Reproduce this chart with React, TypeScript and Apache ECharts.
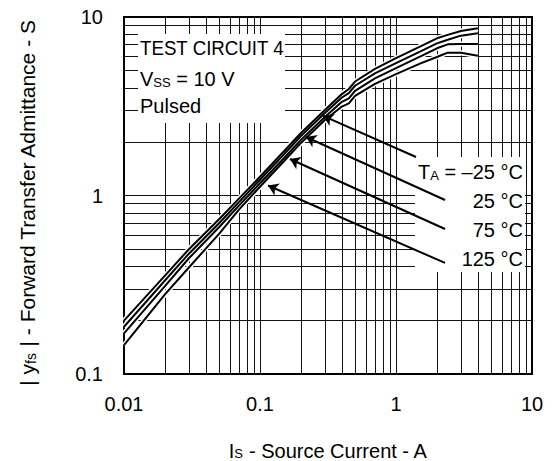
import React, { useEffect, useRef } from "react";
import * as echarts from "echarts";

// ---- data ----
const current = [0.01, 0.02, 0.03, 0.05, 0.07, 0.1, 0.15, 0.2, 0.3, 0.4, 0.45, 0.5, 0.7, 1, 1.5, 2, 2.4, 3, 4];
const yfsMinus25 = [0.199, 0.356, 0.5, 0.736, 0.96, 1.274, 1.77, 2.24, 3.01, 3.7, 3.95, 4.35, 5.12, 5.88, 6.83, 7.6, 7.94, 8.35, 8.64];
const yfs25 = [0.184, 0.334, 0.472, 0.699, 0.918, 1.225, 1.7, 2.155, 2.9, 3.54, 3.75, 4.12, 4.83, 5.51, 6.4, 7.12, 7.45, 7.86, 8.1];
const yfs75 = [0.169, 0.311, 0.445, 0.664, 0.877, 1.172, 1.618, 2.05, 2.75, 3.35, 3.5, 3.86, 4.53, 5.17, 6.0, 6.68, 7.03, 7.05, 7.05];
const yfs125 = [0.145, 0.279, 0.395, 0.61, 0.833, 1.12, 1.556, 1.97, 2.65, 3.15, 3.28, 3.62, 4.22, 4.79, 5.48, 5.97, 6.31, 6.31, 6.07];

const seriesNames = ["-25 °C", "25 °C", "75 °C", "125 °C"];
const seriesValues = [yfsMinus25, yfs25, yfs75, yfs125];

// arrow annotations: [start (label side), tip (on curve bundle)] in data units
const arrowStarts = [[1.403, 1.643], [2.293, 0.944], [2.293, 0.649], [2.293, 0.419]];
const arrowTips = [[0.291, 2.79], [0.218, 2.127], [0.166, 1.602], [0.1146, 1.138]];

const xTickMin = 0.01;
const xTickMax = 10;
const yTickMin = 0.1;
const yTickMax = 10;

const FONT = "'Liberation Sans', Arial, Helvetica, sans-serif";

function gridValues(min: number, max: number): number[] {
  const out: number[] = [];
  for (let d = Math.round(Math.log10(min)); d < Math.round(Math.log10(max)); d++) {
    for (let k = 1; k <= 9; k++) {
      const v = parseFloat((k * Math.pow(10, d)).toPrecision(3));
      if (v > min && v < max) out.push(v);
    }
  }
  return out;
}

function fmt(v: number): string {
  const r = Math.round(Math.log10(v));
  return r < 0 ? v.toFixed(-r) : String(Math.round(v));
}

export default function App() {
  const ref = useRef<HTMLDivElement>(null);

  useEffect(() => {
    if (!ref.current) return;
    const chart = echarts.init(ref.current, null, { renderer: "svg" });

    const gx = gridValues(xTickMin, xTickMax);
    const gy = gridValues(yTickMin, yTickMax);

    const rich = {
      a: { fontSize: 20, fontFamily: FONT, color: "#000" },
      b: { fontSize: 13, fontFamily: FONT, color: "#000", verticalAlign: "bottom" },
    };
    const richX = {
      a: { fontSize: 20, fontFamily: FONT, color: "#000", lineHeight: 18 },
      b: { fontSize: 13, fontFamily: FONT, color: "#000", verticalAlign: "bottom", lineHeight: 18 },
    };
    const richY = {
      a: { fontSize: 21, fontFamily: FONT, color: "#000" },
      b: { fontSize: 14, fontFamily: FONT, color: "#000", verticalAlign: "bottom" },
    };

    const curveSeries: any[] = [];
    seriesValues.forEach((vals, i) => {
      curveSeries.push({
        type: "line",
        name: seriesNames[i] + " halo",
        data: current.map((x, j) => [x, vals[j]]),
        showSymbol: false,
        symbol: "none",
        lineStyle: { color: "#fff", width: 5 },
        z: 4,
        silent: true,
      });
    });
    seriesValues.forEach((vals, i) => {
      curveSeries.push({
        type: "line",
        name: seriesNames[i],
        data: current.map((x, j) => [x, vals[j]]),
        showSymbol: false,
        symbol: "none",
        lineStyle: { color: "#000", width: 2 },
        z: 5,
        silent: true,
      });
    });

    const option: any = {
      animation: false,
      backgroundColor: "#fff",
      grid: {
        left: 124,
        top: 17,
        right: 20,
        bottom: 87,
        show: true,
        borderColor: "#000",
        borderWidth: 2,
        backgroundColor: "transparent",
        containLabel: false,
        outerBoundsMode: "none",
        z: 0,
      },
      xAxis: {
        type: "log",
        logBase: 10,
        min: xTickMin,
        max: xTickMax,
        axisLine: { show: false },
        axisTick: { show: false },
        splitLine: { show: false },
        axisLabel: { formatter: fmt, fontSize: 20, fontFamily: FONT, color: "#000", margin: 20 },
        name: "{a|I}{b|S}{a| - Source Current - A}",
        nameLocation: "middle",
        nameGap: 68,
        nameTextStyle: { rich: richX },
      },
      yAxis: {
        type: "log",
        logBase: 10,
        min: yTickMin,
        max: yTickMax,
        axisLine: { show: false },
        axisTick: { show: false },
        splitLine: { show: false },
        axisLabel: { formatter: fmt, fontSize: 20, fontFamily: FONT, color: "#000", margin: 21 },
        name: "{a|| y}{b|fs}{a| | - Forward Transfer Admittance - S}",
        nameLocation: "middle",
        nameRotate: 90,
        nameGap: 86,
        nameTextStyle: { rich: richY, padding: [0, 14, 0, 0] },
      },
      series: [
        {
          type: "line",
          name: "grid",
          data: [],
          z: 1,
          silent: true,
          markLine: {
            z: 1,
            silent: true,
            symbol: ["none", "none"],
            label: { show: false },
            lineStyle: { color: "#111", width: 1, type: "solid" },
            emphasis: { disabled: true },
            animation: false,
            data: [
              ...gx.map((v) => ({ xAxis: v })),
              ...gy.map((v) => ({ yAxis: v })),
            ],
          },
        },
        ...curveSeries,
        {
          type: "line",
          name: "arrows",
          data: [],
          z: 6,
          silent: true,
          markLine: {
            z: 6,
            silent: true,
            symbol: ["none", "arrow"],
            symbolSize: 10,
            label: { show: false },
            lineStyle: { color: "#000", width: 2, type: "solid" },
            emphasis: { disabled: true },
            animation: false,
            data: arrowStarts.map((s, i) => [{ coord: s }, { coord: arrowTips[i] }]),
          },
        },
      ],
      graphic: {
        z: 3,
        elements: [
          { type: "rect", z: 3, silent: true, shape: { x: 138, y: 34, width: 147, height: 89 }, style: { fill: "#fff" } },
          { type: "rect", z: 3, silent: true, shape: { x: 415, y: 157, width: 110, height: 115 }, style: { fill: "#fff" } },
          {
            type: "text", z: 10, x: 140, y: 48, scaleX: 0.935,
            style: { text: "TEST CIRCUIT 4", font: `20px ${FONT}`, fill: "#000", verticalAlign: "middle" },
          },
          {
            type: "text", z: 10, x: 140, y: 78.5,
            style: { text: "{a|V}{b|SS}{a| = 10 V}", rich, fill: "#000", verticalAlign: "middle" },
          },
          {
            type: "text", z: 10, x: 140, y: 105.5,
            style: { text: "Pulsed", font: `20px ${FONT}`, fill: "#000", verticalAlign: "middle" },
          },
          {
            type: "text", z: 10, x: 523, y: 172,
            style: { text: "{a|T}{b|A}{a| = –25 °C}", rich, fill: "#000", align: "right", verticalAlign: "middle" },
          },
          {
            type: "text", z: 10, x: 523, y: 201,
            style: { text: "25 °C", font: `20px ${FONT}`, fill: "#000", align: "right", verticalAlign: "middle" },
          },
          {
            type: "text", z: 10, x: 523, y: 230,
            style: { text: "75 °C", font: `20px ${FONT}`, fill: "#000", align: "right", verticalAlign: "middle" },
          },
          {
            type: "text", z: 10, x: 523, y: 259,
            style: { text: "125 °C", font: `20px ${FONT}`, fill: "#000", align: "right", verticalAlign: "middle" },
          },
        ],
      },
    };

    chart.setOption(option);
    return () => chart.dispose();
  }, []);

  return (
    <div
      ref={ref}
      style={{ position: "fixed", left: 0, top: 0, width: 552, height: 461, background: "#fff" }}
    />
  );
}
